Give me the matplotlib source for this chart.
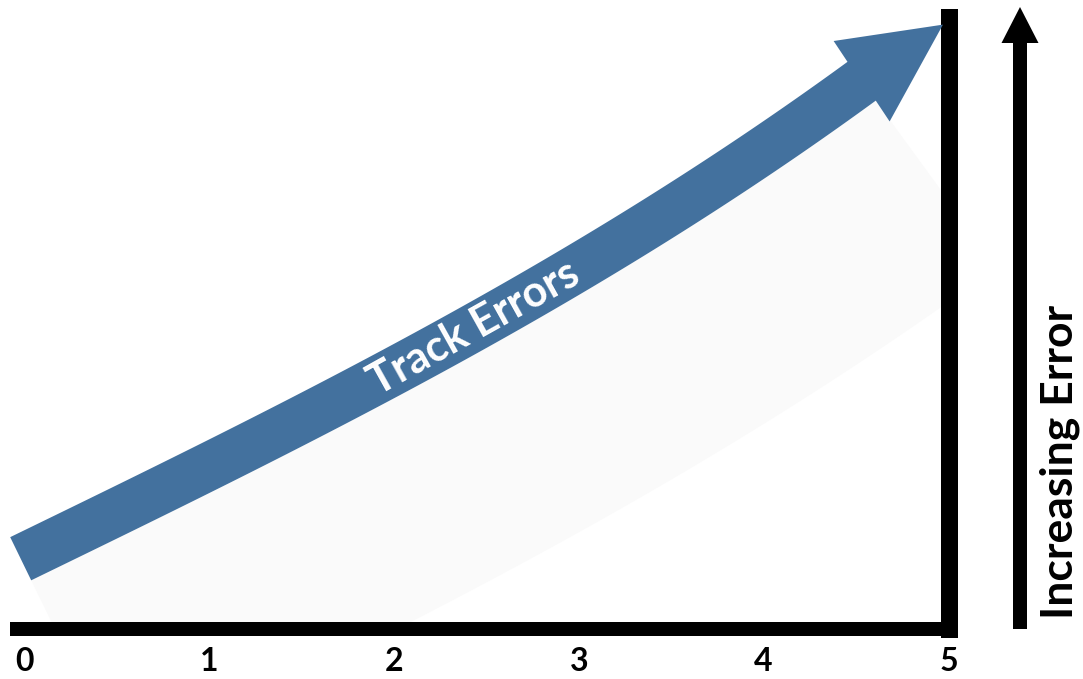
import numpy as np
import matplotlib.pyplot as plt
import matplotlib.patches as mpatches
import matplotlib.transforms as mtransforms

plt.rcParams['font.family'] = ['Lato', 'DejaVu Sans']

# Centre line of the "Track Errors" arrow
track_x = [-0.02, 1, 2, 3, 4, 4.53]
track_y = [0.38, 0.88, 1.40, 1.95, 2.60, 2.96]
tip_x, tip_y = 4.97, 3.27

# Axis labels
ticks = [0, 1, 2, 3, 4, 5]
tick_labels = ['0', '1', '2', '3', '4', '5']
arrow_label = 'Track Errors'
side_label = 'Increasing Error'

BLUE = '#43719e'
W, H = 1083, 679

fig = plt.figure(figsize=(W / 100, H / 100), dpi=100)

# Axes box in pixels (left, right, bottom, top measured from the top-left)
left, right, bottom, top = 17, 948.5, 629, 16.5
ax = fig.add_axes([left / W, 1 - bottom / H, (right - left) / W,
                   (bottom - top) / H])
scale = (right - left) / 5.04
ax.set_xlim(-0.04, 5.0)
ax.set_ylim(0, (bottom - top) / scale)

# Thick black axes
for side in ['left', 'top']:
    ax.spines[side].set_visible(False)
ax.spines['bottom'].set_linewidth(14 * 0.72)
ax.spines['right'].set_linewidth(17 * 0.72)
ax.spines['bottom'].set_color('black')
ax.spines['right'].set_color('black')

ax.set_xticks(ticks, tick_labels, fontsize=23, fontweight='bold')
ax.set_yticks([])
ax.tick_params(axis='x', length=0, pad=13)

# Build the curved arrow in pixel space
coef = np.polyfit(track_x, track_y, 3)
xs = np.linspace(track_x[0], track_x[-1], 300)
ys = np.polyval(coef, xs)
pts = ax.transData.transform(np.column_stack([xs, ys]))
d = np.gradient(pts, axis=0)
d /= np.linalg.norm(d, axis=1)[:, None]
n = np.column_stack([-d[:, 1], d[:, 0]])

half = 24
upper = pts + n * half
lower = pts - n * half
tip = ax.transData.transform((tip_x, tip_y))
base = pts[-1]
hd = (tip - base) / np.linalg.norm(tip - base)
hn = np.array([-hd[1], hd[0]])
head = [base + hn * 49, tip, base - hn * 49]
poly = np.vstack([upper, head, lower[::-1]])

ident = mtransforms.IdentityTransform()
ax.patch.set_visible(False)

# very faint shadow under the arrow
shade = np.vstack([lower, (pts - n * 230)[::-1]])
shade_patch = mpatches.Polygon(shade, closed=True, color='#fafafa',
                               transform=ident, zorder=0, lw=0)
ax.add_patch(shade_patch)
shade_patch.set_clip_path(mpatches.Rectangle((left, H - bottom),
                                             right - left, bottom - top,
                                             transform=ident))

ax.add_patch(mpatches.Polygon(poly, closed=True, color=BLUE, lw=0,
                              transform=ident, clip_on=False, zorder=3))

# Label along the arrow
tx = 2.43
ty = np.polyval(coef, tx)
p0 = ax.transData.transform((tx, ty))
p1 = ax.transData.transform((tx + 0.01, np.polyval(coef, tx + 0.01)))
angle = np.degrees(np.arctan2(p1[1] - p0[1], p1[0] - p0[0]))
ax.text(tx, ty, arrow_label, rotation=angle, rotation_mode='anchor',
        ha='center', va='center', color='white', fontweight='bold',
        fontsize=31, zorder=4)

# Side arrow with its label
fig.add_artist(mpatches.FancyArrow(1020, H - 629, 0, 629 - 7, width=14,
                                   head_width=37, head_length=36,
                                   length_includes_head=True, color='black',
                                   lw=0, transform=ident))
fig.text(1072 / W, 1 - 462 / H, side_label, rotation=90,
         rotation_mode='anchor', ha='center', va='baseline',
         fontsize=32, fontweight='bold', color='black')

fig.savefig('out.png', dpi=100)
